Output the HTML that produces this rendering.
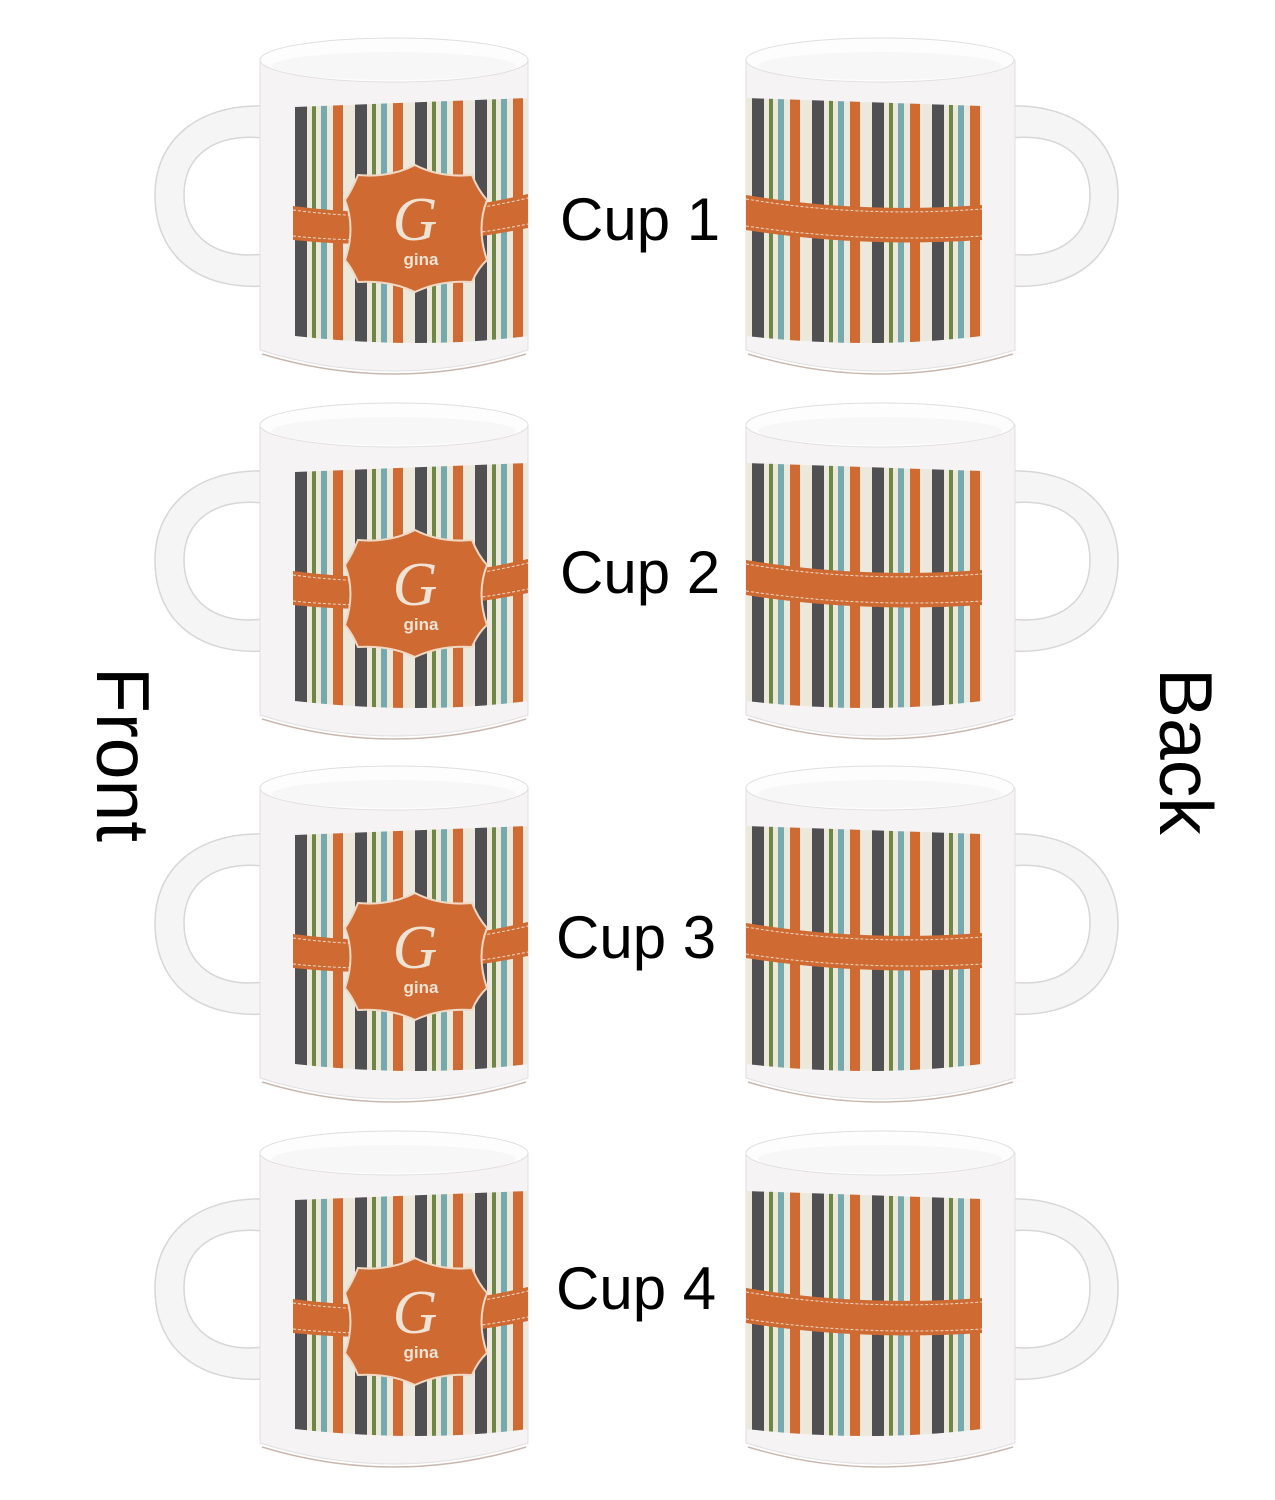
<!DOCTYPE html>
<html><head><meta charset="utf-8"><style>
html,body{margin:0;padding:0;background:#fff;}
svg{display:block}
</style></head><body>
<svg width="1275" height="1500" viewBox="0 0 1275 1500" xmlns="http://www.w3.org/2000/svg">
<defs>
<pattern id="st" x="295" y="0" width="60" height="400" patternUnits="userSpaceOnUse">
<rect width="60" height="400" fill="#ece8dc"/>
<rect x="0" width="12" height="400" fill="#505052"/>
<rect x="17" width="4" height="400" fill="#6f8745"/>
<rect x="26" width="6" height="400" fill="#74aaae"/>
<rect x="38" width="10" height="400" fill="#cf6a33"/>
</pattern>
<pattern id="st2" x="752" y="0" width="60" height="400" patternUnits="userSpaceOnUse">
<rect width="60" height="400" fill="#ece8dc"/>
<rect x="0" width="12" height="400" fill="#505052"/>
<rect x="17" width="4" height="400" fill="#6f8745"/>
<rect x="26" width="6" height="400" fill="#74aaae"/>
<rect x="38" width="10" height="400" fill="#cf6a33"/>
</pattern>
<g id="front">
<path d="M264,106 C198,104 155,140 155,195 C155,257 200,290 264,286 L264,254 C215,260 184,236 184,195 C184,155 215,133 264,138 Z" fill="#f6f5f6" stroke="#d8d6d7" stroke-width="1.5"/>
<path d="M260,60 L260,350 Q394,392 528,350 L528,60 Z" fill="#f5f3f4" stroke="#e2dfe0"/>
<path d="M262,354 Q394,394 526,354" fill="none" stroke="#c9b8b0" stroke-width="1.5"/>
<ellipse cx="394" cy="60" rx="134" ry="22" fill="#fdfdfd" stroke="#e0dedf"/>
<ellipse cx="394" cy="66" rx="122" ry="14" fill="#f8f7f8"/>
<path d="M295,107 L528,98 L528,336 Q420,350 295,336 Z" fill="url(#st)"/>
<path d="M293,206 Q410,222 528,194 L528,228 Q410,252 293,240 Z" fill="#cf6a33"/>
<path d="M293,210 Q410,226 528,198 M293,236 Q410,248 528,224" fill="none" stroke="#f0d9c4" stroke-width="1" stroke-dasharray="3,2"/>
<path d="M358,175 Q390,178 415,165 Q440,178 472,175 Q478,190 487,200 Q476,228 487,260 Q478,268 472,282 Q440,280 415,292 Q390,280 358,282 Q352,268 345,260 Q356,228 345,200 Q352,190 358,175 Z" fill="#cf6a33" stroke="#f0d9c4" stroke-width="2"/>
<text x="415" y="240" font-family="Liberation Serif,serif" font-style="italic" font-size="62" fill="#efe3d3" text-anchor="middle">G</text>
<text x="421" y="265" font-family="Liberation Sans,sans-serif" font-weight="bold" font-size="17" fill="#efe3d3" text-anchor="middle">gina</text>
</g>
<g id="back">
<path d="M1010,106 C1076,104 1118,140 1118,195 C1118,257 1075,290 1010,286 L1010,254 C1060,260 1090,236 1090,195 C1090,155 1060,133 1010,138 Z" fill="#f6f5f6" stroke="#d8d6d7" stroke-width="1.5"/>
<path d="M746,60 L746,350 Q880,392 1015,350 L1015,60 Z" fill="#f5f3f4" stroke="#e2dfe0"/>
<path d="M748,354 Q880,394 1013,354" fill="none" stroke="#c9b8b0" stroke-width="1.5"/>
<ellipse cx="880" cy="60" rx="134" ry="22" fill="#fdfdfd" stroke="#e0dedf"/>
<ellipse cx="880" cy="66" rx="122" ry="14" fill="#f8f7f8"/>
<path d="M746,98 L982,106 L982,336 Q870,350 746,336 Z" fill="url(#st2)"/>
<path d="M746,195 Q860,214 982,205 L982,240 Q860,248 746,230 Z" fill="#cf6a33"/>
<path d="M746,199 Q860,218 982,209 M746,226 Q860,243 982,236" fill="none" stroke="#f0d9c4" stroke-width="1" stroke-dasharray="3,2"/>
</g>
</defs>
<use href="#front"/><use href="#back"/>
<use href="#front" transform="translate(0,365)"/><use href="#back" transform="translate(0,365)"/>
<use href="#front" transform="translate(0,728)"/><use href="#back" transform="translate(0,728)"/>
<use href="#front" transform="translate(0,1093)"/><use href="#back" transform="translate(0,1093)"/>
<g font-family="Liberation Sans,sans-serif" fill="#000">
<text x="560" y="240" font-size="60">Cup 1</text>
<text x="560" y="593" font-size="60">Cup 2</text>
<text x="556" y="958" font-size="60">Cup 3</text>
<text x="556" y="1309" font-size="60">Cup 4</text>
<text transform="translate(97,667) rotate(90)" font-size="75">Front</text>
<text transform="translate(1160,668) rotate(90)" font-size="75">Back</text>
</g>
</svg>
</body></html>
